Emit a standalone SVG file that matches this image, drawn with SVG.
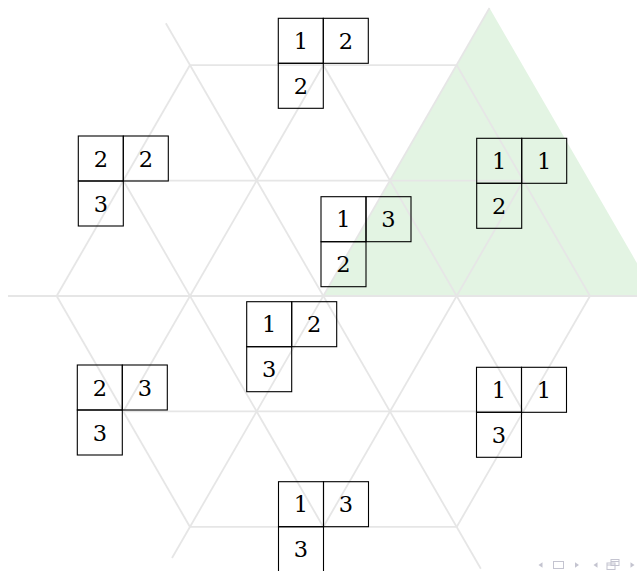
<svg xmlns="http://www.w3.org/2000/svg" width="637" height="571" viewBox="0 0 637 571">
<style>
.g{stroke:#e6e6e6;stroke-width:1.8;fill:none;stroke-linecap:butt}
.c{fill:none;stroke:#000;stroke-width:1.1}
.t{font-family:"DejaVu Serif","Liberation Serif",serif;font-size:22.5px;fill:#000;text-anchor:middle}
.nav{fill:#c4c4d0;stroke:none}
.navs{fill:none;stroke:#c4c4d0;stroke-width:1}
</style>
<rect width="637" height="571" fill="#fff"/>
<polygon id="chamber" points="323.33,296 489.5,8 656,296" fill="#e3f4e3"/>
<g id="lattice" class="g">
<line x1="190" y1="65.06" x2="456.67" y2="65.06"/>
<line x1="123.33" y1="180.53" x2="523.33" y2="180.53"/>
<line x1="8" y1="296" x2="638" y2="296"/>
<line x1="123.33" y1="411.47" x2="523.33" y2="411.47"/>
<line x1="190" y1="526.94" x2="456.67" y2="526.94"/>
<line x1="56.67" y1="296" x2="190" y2="526.94"/>
<line x1="123.33" y1="180.53" x2="323.33" y2="526.94"/>
<line x1="165.83" y1="23.2" x2="480.83" y2="568.8"/>
<line x1="323.33" y1="65.06" x2="523.33" y2="411.47"/>
<line x1="456.67" y1="65.06" x2="590" y2="296"/>
<line x1="56.67" y1="296" x2="190" y2="65.06"/>
<line x1="123.33" y1="411.47" x2="323.33" y2="65.06"/>
<line x1="172" y1="558" x2="489.5" y2="8"/>
<line x1="323.33" y1="526.94" x2="523.33" y2="180.53"/>
<line x1="456.67" y1="526.94" x2="590" y2="296"/>
</g>
<defs>
<g id="shape">
<rect class="c" x="-45" y="-45" width="45" height="45"/>
<rect class="c" x="0" y="-45" width="45" height="45"/>
<rect class="c" x="-45" y="0" width="45" height="45"/>
</g>
</defs>
<g id="t-top" transform="translate(323.3,63.3)">
<use href="#shape"/>
<text class="t" x="-22.5" y="-14.3">1</text><text class="t" x="22.5" y="-14.3">2</text><text class="t" x="-22.5" y="30.7">2</text>
</g>
<g id="t-ul" transform="translate(123.3,181)">
<use href="#shape"/>
<text class="t" x="-22.5" y="-14.3">2</text><text class="t" x="22.5" y="-14.3">2</text><text class="t" x="-22.5" y="30.7">3</text>
</g>
<g id="t-ur" transform="translate(521.7,183.3)">
<use href="#shape"/>
<text class="t" x="-22.5" y="-14.3">1</text><text class="t" x="22.5" y="-14.3">1</text><text class="t" x="-22.5" y="30.7">2</text>
</g>
<g id="t-c1" transform="translate(366,241.7)">
<use href="#shape"/>
<text class="t" x="-22.5" y="-14.3">1</text><text class="t" x="22.5" y="-14.3">3</text><text class="t" x="-22.5" y="30.7">2</text>
</g>
<g id="t-c2" transform="translate(291.7,346.7)">
<use href="#shape"/>
<text class="t" x="-22.5" y="-14.3">1</text><text class="t" x="22.5" y="-14.3">2</text><text class="t" x="-22.5" y="30.7">3</text>
</g>
<g id="t-ll" transform="translate(122.3,410)">
<use href="#shape"/>
<text class="t" x="-22.5" y="-14.3">2</text><text class="t" x="22.5" y="-14.3">3</text><text class="t" x="-22.5" y="30.7">3</text>
</g>
<g id="t-lr" transform="translate(521.5,412.3)">
<use href="#shape"/>
<text class="t" x="-22.5" y="-14.3">1</text><text class="t" x="22.5" y="-14.3">1</text><text class="t" x="-22.5" y="30.7">3</text>
</g>
<g id="t-bot" transform="translate(323.5,526.7)">
<use href="#shape"/>
<text class="t" x="-22.5" y="-14.3">1</text><text class="t" x="22.5" y="-14.3">3</text><text class="t" x="-22.5" y="30.7">3</text>
</g>
<g id="navigation">
<polygon class="nav" points="538.5,565 542.5,562.3 542.5,567.7"/>
<rect class="navs" x="553.5" y="561.5" width="10" height="7"/>
<polygon class="nav" points="575,562.3 575,567.7 579,565"/>
<polygon class="nav" points="593.5,565 597.5,562.3 597.5,567.7"/>
<rect class="navs" x="611" y="559.5" width="8" height="6"/>
<rect x="607" y="563" width="8" height="6.5" fill="#fff" class="navs"/>
<line class="navs" x1="607" y1="565" x2="615" y2="565"/>
<line class="navs" x1="611" y1="561.5" x2="619" y2="561.5"/>
<polygon class="nav" points="630.5,562.3 630.5,567.7 634.5,565"/>
</g>
</svg>
